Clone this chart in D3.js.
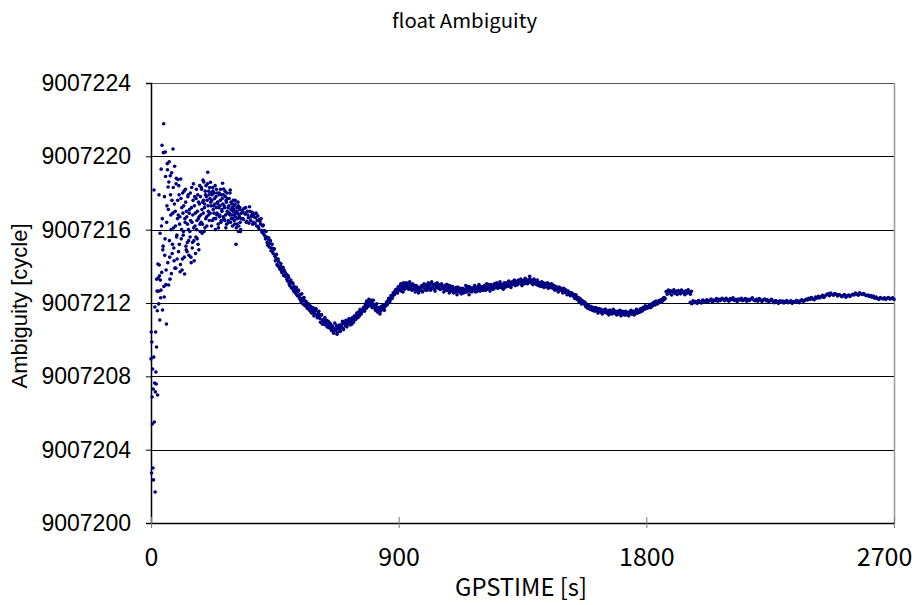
<!DOCTYPE html>
<html><head><meta charset="utf-8">
<script src="https://cdn.jsdelivr.net/npm/d3@7"></script>
<style>html,body{margin:0;padding:0;background:#fff;} svg{display:block}</style>
</head><body><svg id="chart" width="920" height="605"></svg>
<script>
const chartTitle = "float Ambiguity";
const xLabel = "GPSTIME [s]";
const yLabel = "Ambiguity [cycle]";
const xTicks = [0, 900, 1800, 2700];
const yTicks = [9007200, 9007204, 9007208, 9007212, 9007216, 9007220, 9007224];
const cycleBase = 9007200; // values below are the part above this integer

// convergence phase: 1 s epochs for 0-19 s, then 2 s epochs to 328 s
const earlyTimes = d3.range(0, 20, 1).concat(d3.range(20, 330, 2));
const earlyFrac = [
  8.95, 10.42, 2.73, 9.87, 6.87, 5.40, 8.40, 3.00, 7.31, 2.35, 9.05, 18.16, 5.51, 7.64, 11.78, 1.69, 7.15, 10.42, 8.24, 7.58,
  9.60, 12.65, 6.98, 13.36, 11.95, 14.07, 11.07, 13.25, 12.70, 16.2, 20.60, 11.62, 15.1, 21.78, 12.33, 14.6, 20.24, 13.0, 10.85, 17.3,
  19.27, 18.33, 12.98, 19.70, 14.5, 18.94, 16.8, 13.6, 17.6, 15.2, 20.40, 16.1, 14.3, 19.46, 17.0, 13.9, 18.80, 15.7, 16.6, 18.73,
  14.8, 17.9, 16.3, 13.7, 18.76, 15.5, 17.2, 14.4, 16.9, 15.9, 18.1, 13.58, 16.4, 17.5, 14.9, 16.7, 15.3, 17.8, 16.0, 14.6,
  17.1, 15.6, 16.5, 14.2, 18.3, 15.0, 16.8, 18.5, 15.4, 17.3, 16.2, 14.7, 17.7, 16.0, 15.5, 17.9, 16.6, 14.9, 17.4, 16.3,
  17.8, 16.4, 18.2, 15.8, 17.5, 16.9, 18.6, 17.2, 16.1, 17.9, 18.4, 16.7, 17.6, 19.13, 17.0, 18.1, 16.5, 17.7, 18.58, 17.3,
  16.2, 17.9, 18.3, 17.1, 16.6, 18.0, 17.4, 16.0, 17.8, 18.2, 16.9, 17.5, 16.3, 17.2, 18.0, 16.8, 17.6, 16.4, 17.9, 17.0,
  18.53, 16.7, 18.22, 17.3, 16.5, 17.8, 16.1, 17.5, 18.0, 16.9, 17.2, 16.4, 17.7, 16.8, 18.16, 17.1, 16.6, 17.4, 16.2, 17.0,
  16.8, 17.3, 16.3, 17.6, 16.9, 16.1, 17.2, 16.6, 17.5, 15.9, 16.8, 17.1, 16.4, 16.0, 16.9
];
// the odd epochs 21 s .. 327 s
const earlyTimesB = d3.range(21, 329, 2);
const earlyFracB = [
  13.30, 11.58, 14.13, 12.64, 17.9, 13.49, 15.8, 12.29, 19.3, 13.67, 16.6, 14.9, 20.2, 12.9, 17.8, 15.5, 18.9, 13.8, 16.4, 19.6,
  14.2, 17.1, 18.6, 15.4, 13.3, 17.9, 16.0, 19.1, 14.7, 16.9, 18.3, 15.0, 17.4, 13.9, 16.2, 18.5, 15.6, 14.4, 17.6, 16.8,
  18.4, 15.2, 16.7, 14.1, 17.7, 16.0, 13.8, 18.0, 15.7, 17.3, 14.5, 16.6, 18.2, 15.1, 17.0, 14.8, 16.3, 17.9, 15.4, 16.9,
  15.9, 18.0, 14.5, 17.2, 16.4, 15.3, 17.6, 16.1, 14.3, 17.8, 16.9, 15.6, 18.2, 16.5, 17.0, 15.2, 17.5, 16.7, 18.4, 15.9,
  16.8, 18.3, 17.1, 16.3, 18.7, 17.6, 15.9, 17.4, 18.1, 16.6, 17.8, 16.2, 18.5, 17.3, 16.8, 17.9, 18.3, 16.9, 17.5, 18.0,
  17.6, 16.5, 18.1, 17.3, 16.9, 17.7, 18.4, 16.6, 17.2, 16.8, 18.0, 17.4, 16.1, 17.9, 16.7, 17.3, 18.2, 16.5, 17.1, 17.7,
  17.4, 17.9, 16.6, 17.2, 18.1, 16.8, 17.6, 16.3, 17.0, 17.7, 16.5, 17.3, 16.9, 18.0, 16.4, 17.5, 16.8, 17.2, 16.6, 17.6,
  17.1, 16.5, 17.4, 16.7, 15.2, 17.0, 16.3, 16.9, 17.3, 16.2, 16.7, 17.2, 15.9, 16.6
];

// 332 s .. 1868 s, 4 s epochs
const midStart = 332, midStep = 4;
const midFrac = [
  17.05, 16.55, 16.90, 17.20, 16.45, 16.80, 16.35, 17.00, 16.70, 16.95,
  16.40, 16.85, 16.65, 16.20, 16.75, 16.05, 16.45, 16.60, 15.85, 16.25,
  15.95, 15.50, 15.60, 15.15, 15.55, 15.25, 14.85, 15.20, 14.70, 14.95,
  14.30, 14.65, 14.05, 14.25, 13.85, 14.15, 13.65, 13.95, 13.80, 13.45,
  13.55, 13.20, 13.40, 12.95, 13.25, 12.80, 13.05, 12.90, 12.55, 12.85,
  12.40, 12.70, 12.25, 12.15, 12.50, 11.95, 12.30, 11.85, 12.05, 11.70,
  11.95, 11.60, 11.80, 11.45, 11.75, 11.30, 11.55, 11.65, 11.20, 11.45,
  11.30, 10.95, 11.35, 11.05, 10.85, 11.20, 10.90, 10.70, 11.00, 10.75,
  10.85, 10.50, 10.70, 10.35, 10.90, 10.55, 10.30, 10.65, 10.80, 10.45,
  10.70, 11.00, 10.55, 10.85, 11.05, 10.70, 10.95, 11.15, 10.80, 11.00,
  11.20, 10.95, 11.30, 11.10, 11.45, 11.20, 11.35, 11.65, 11.40, 11.55,
  11.75, 11.55, 11.95, 12.10, 11.80, 12.20, 11.90, 12.05, 11.75, 12.15,
  11.85, 11.60, 11.95, 11.50, 11.75, 11.40, 11.80, 11.65, 11.90, 11.60,
  11.85, 12.05, 11.95, 12.25, 12.10, 12.40, 12.25, 12.55, 12.45, 12.70,
  12.75, 12.55, 12.90, 12.70, 13.05, 12.80, 12.60, 13.00, 12.85, 13.10,
  13.05, 12.75, 13.15, 12.90, 12.70, 13.00, 12.85, 12.60, 12.95, 12.75,
  12.55, 12.85, 12.70, 12.95, 12.65, 13.05, 12.80, 12.95, 12.70, 13.10,
  12.95, 12.70, 13.15, 12.85, 13.00, 12.65, 12.90, 13.10, 12.80, 12.95,
  12.75, 13.05, 12.85, 12.60, 12.95, 12.70, 13.00, 12.80, 12.55, 12.90,
  12.65, 12.90, 12.55, 12.80, 12.70, 12.45, 12.85, 12.60, 12.75, 12.50,
  12.80, 12.55, 12.70, 12.95, 12.60, 12.75, 12.45, 12.85, 12.65, 12.80,
  12.70, 12.95, 12.60, 12.85, 12.75, 13.00, 12.65, 12.90, 12.80, 12.70,
  12.95, 12.70, 13.05, 12.80, 12.90, 12.65, 13.00, 12.85, 12.75, 13.05,
  12.85, 13.10, 12.80, 12.95, 13.15, 12.85, 13.00, 12.75, 13.10, 12.95,
  13.10, 12.90, 13.20, 13.00, 12.85, 13.15, 13.05, 13.25, 12.95, 13.10,
  13.00, 13.25, 13.10, 13.30, 12.95, 13.20, 13.05, 13.35, 13.15, 13.05,
  13.25, 13.45, 13.10, 13.20, 13.00, 13.30, 13.15, 13.05, 13.25, 12.95,
  13.10, 12.90, 13.15, 13.00, 12.85, 13.05, 12.95, 13.10, 12.80, 12.95,
  12.85, 13.05, 12.80, 12.95, 12.70, 12.90, 12.75, 12.60, 12.85, 12.70,
  12.75, 12.55, 12.80, 12.60, 12.70, 12.45, 12.65, 12.50, 12.40, 12.55,
  12.50, 12.35, 12.25, 12.45, 12.20, 12.30, 12.05, 12.20, 11.95, 12.10,
  11.95, 12.05, 11.80, 11.90, 11.70, 11.85, 11.65, 11.80, 11.60, 11.75,
  11.55, 11.75, 11.60, 11.45, 11.70, 11.55, 11.65, 11.40, 11.60, 11.50,
  11.65, 11.45, 11.55, 11.35, 11.60, 11.50, 11.40, 11.65, 11.45, 11.55,
  11.35, 11.55, 11.40, 11.60, 11.30, 11.45, 11.50, 11.35, 11.55, 11.40,
  11.50, 11.30, 11.45, 11.60, 11.40, 11.55, 11.35, 11.50, 11.65, 11.45,
  11.60, 11.50, 11.70, 11.55, 11.75, 11.65, 11.85, 11.70, 11.80, 11.75,
  11.90, 11.75, 11.95, 11.85, 12.05, 11.90, 12.10, 11.95, 12.00, 12.15,
  12.05, 12.20, 12.15, 12.30, 12.25
];
// the in-between epochs 334 s .. 1866 s
const midStartB = 334, midStepB = 4;
const midFracB = [
  16.60, 17.15, 16.85, 16.40, 17.00, 16.65, 17.25, 16.50, 16.80, 16.30,
  16.70, 16.35, 16.90, 16.50, 16.15, 16.55, 16.30, 15.95, 16.20, 15.75,
  15.65, 15.90, 15.30, 15.45, 15.05, 15.40, 15.00, 14.80, 14.95, 14.55,
  14.45, 14.10, 14.40, 13.95, 14.00, 13.75, 13.85, 13.50, 13.70, 13.60,
  13.30, 13.50, 13.05, 13.15, 12.85, 13.10, 12.65, 12.80, 12.70, 12.45,
  12.60, 12.35, 12.45, 12.05, 12.25, 12.15, 11.90, 12.10, 11.80, 11.95,
  11.70, 11.85, 11.50, 11.65, 11.55, 11.40, 11.70, 11.35, 11.30, 11.55,
  11.15, 11.35, 10.85, 11.10, 11.00, 10.80, 11.05, 10.85, 10.65, 10.90,
  10.60, 10.75, 10.45, 10.60, 10.50, 10.75, 10.40, 10.60, 10.55, 10.70,
  10.85, 10.60, 10.90, 10.75, 10.95, 10.85, 11.05, 10.90, 11.10, 10.85,
  11.05, 11.25, 11.15, 11.35, 11.25, 11.50, 11.30, 11.45, 11.55, 11.60,
  11.65, 11.85, 11.70, 12.00, 11.95, 12.05, 11.85, 12.15, 11.95, 11.90,
  11.70, 11.80, 11.55, 11.65, 11.60, 11.55, 11.70, 11.85, 11.70, 11.80,
  11.95, 11.90, 12.15, 12.05, 12.20, 12.30, 12.35, 12.45, 12.60, 12.55,
  12.65, 12.85, 12.80, 12.95, 12.65, 12.90, 13.10, 12.75, 12.95, 12.85,
  12.90, 13.00, 12.80, 12.95, 13.05, 12.75, 12.95, 12.80, 12.70, 12.85,
  12.70, 12.75, 12.90, 12.60, 12.85, 12.90, 12.70, 13.00, 12.85, 12.90,
  12.85, 13.05, 12.80, 12.95, 12.75, 13.05, 12.85, 12.95, 13.00, 12.75,
  12.95, 12.80, 12.90, 12.75, 12.85, 13.00, 12.70, 12.85, 12.95, 12.70,
  12.80, 12.70, 12.75, 12.60, 12.85, 12.65, 12.70, 12.80, 12.55, 12.65,
  12.65, 12.75, 12.60, 12.80, 12.70, 12.90, 12.65, 12.70, 12.60, 12.75,
  12.85, 12.75, 12.80, 12.65, 12.90, 12.80, 12.75, 12.85, 12.70, 12.90,
  12.80, 12.90, 12.75, 13.00, 12.85, 12.80, 12.90, 12.75, 12.95, 12.85,
  13.00, 12.90, 12.95, 13.05, 12.85, 13.00, 12.90, 13.05, 12.85, 13.05,
  12.95, 13.05, 13.10, 12.95, 13.10, 13.00, 13.15, 13.05, 13.20, 13.00,
  13.15, 13.10, 13.20, 13.05, 13.20, 13.10, 13.25, 13.10, 13.20, 13.25,
  13.15, 13.30, 13.20, 13.10, 13.25, 13.10, 13.20, 13.00, 13.15, 13.05,
  13.00, 13.05, 12.95, 13.10, 13.00, 12.90, 13.00, 12.85, 13.05, 12.90,
  12.95, 12.85, 12.90, 12.80, 12.85, 12.80, 12.70, 12.85, 12.75, 12.80,
  12.70, 12.65, 12.60, 12.70, 12.55, 12.60, 12.55, 12.45, 12.55, 12.45,
  12.40, 12.45, 12.30, 12.35, 12.25, 12.15, 12.25, 12.10, 12.15, 12.00,
  12.05, 11.90, 11.95, 11.75, 11.85, 11.75, 11.70, 11.75, 11.65, 11.70,
  11.65, 11.60, 11.70, 11.55, 11.60, 11.50, 11.60, 11.55, 11.50, 11.65,
  11.50, 11.55, 11.45, 11.60, 11.45, 11.55, 11.50, 11.45, 11.55, 11.50,
  11.45, 11.40, 11.50, 11.45, 11.40, 11.55, 11.40, 11.45, 11.35, 11.45,
  11.40, 11.45, 11.50, 11.40, 11.50, 11.45, 11.55, 11.45, 11.55, 11.50,
  11.55, 11.65, 11.60, 11.70, 11.65, 11.75, 11.70, 11.80, 11.75, 11.85,
  11.85, 11.80, 11.90, 12.00, 11.95, 12.05, 12.00, 12.05, 12.10, 12.05,
  12.15, 12.10, 12.25, 12.20
];

// short offset cluster 1872 s .. 1964 s, 4 s epochs
const jumpStart = 1872, jumpStep = 4;
const jumpFrac = [
  12.62, 12.48, 12.70, 12.55, 12.66, 12.44, 12.60, 12.72, 12.52, 12.64, 12.46, 12.68,
  12.58, 12.50, 12.70, 12.56, 12.62, 12.45, 12.66, 12.54, 12.72, 12.58, 12.48, 12.64
];

// 1960 s .. 2700 s, 5 s epochs
const lateStart = 1960, lateStep = 5;
const lateFrac = [
  12.04, 11.96, 12.12, 12.02, 12.08, 11.98, 12.14, 12.06, 12.00, 12.16, 12.10, 12.04,
  12.18, 12.08, 12.14, 12.22, 12.06, 12.16, 12.12, 12.24, 12.10, 12.20, 12.14, 12.26,
  12.20, 12.12, 12.26, 12.16, 12.10, 12.24, 12.18, 12.28, 12.14, 12.20,
  12.08, 12.22, 12.16, 12.26, 12.12, 12.18, 12.24, 12.10, 12.20, 12.14,
  12.22, 12.28, 12.16, 12.12, 12.20, 12.10, 12.24, 12.18, 12.08, 12.16,
  12.22, 12.12, 12.18, 12.06, 12.14, 12.20,
  12.10, 12.02, 12.14, 12.06, 11.98, 12.12, 12.04, 12.10, 12.00, 12.08,
  12.14, 12.02, 12.06, 12.12, 11.98, 12.08, 12.04, 12.14, 12.10, 12.02,
  12.12, 12.18, 12.08, 12.14, 12.20,
  12.16, 12.26, 12.20, 12.30, 12.22, 12.18, 12.32, 12.26, 12.36, 12.28, 12.34, 12.42, 12.30, 12.38, 12.46,
  12.50, 12.40, 12.54, 12.46, 12.42, 12.52, 12.48, 12.38, 12.46,
  12.42, 12.34, 12.40, 12.46, 12.32, 12.38, 12.44, 12.36, 12.42, 12.48,
  12.44, 12.54, 12.48, 12.42, 12.56, 12.50, 12.46, 12.52, 12.44, 12.40,
  12.44, 12.36, 12.40, 12.32, 12.38,
  12.26, 12.32, 12.24, 12.20, 12.30, 12.26, 12.22, 12.28, 12.20, 12.26, 12.30, 12.22, 12.24, 12.28, 12.20
];

// ---------- build points ----------
const points = [];
earlyFrac.forEach((f, i) => { if (i < earlyTimes.length) points.push({t: earlyTimes[i], v: cycleBase + f}); });
earlyFracB.forEach((f, i) => { if (i < earlyTimesB.length) points.push({t: earlyTimesB[i], v: cycleBase + f}); });
midFrac.forEach((f, i) => points.push({t: midStart + i * midStep, v: cycleBase + f}));
midFracB.forEach((f, i) => points.push({t: midStartB + i * midStepB, v: cycleBase + f}));
jumpFrac.forEach((f, i) => points.push({t: jumpStart + i * jumpStep, v: cycleBase + f}));
lateFrac.forEach((f, i) => points.push({t: lateStart + i * lateStep, v: cycleBase + f}));

// ---------- layout ----------
const L = 151, R = 894, T = 83, B = 523;
const svg = d3.select("#chart");
const x = d3.scaleLinear().domain([0, 2700]).range([L, R]);
const y = d3.scaleLinear().domain([9007200, 9007224]).range([B, T]);

const jpFont = "'Noto Sans CJK JP', 'Noto Sans', sans-serif";
const arialFont = "'Liberation Sans', Arial, sans-serif";

// title
svg.append("text").attr("x", 464.5).attr("y", 28).attr("text-anchor", "middle")
  .attr("font-family", jpFont).attr("font-size", 19).attr("fill", "#000")
  .attr("textLength", 145).attr("lengthAdjust", "spacingAndGlyphs").text(chartTitle);

// gridlines
svg.append("g").selectAll("line").data(yTicks.filter(d => d > 9007200 && d < 9007224)).join("line")
  .attr("x1", L).attr("x2", R).attr("y1", d => Math.round(y(d)) + 0.5).attr("y2", d => Math.round(y(d)) + 0.5)
  .attr("stroke", "#000").attr("stroke-width", 1);

// plot borders
svg.append("line").attr("x1", L).attr("x2", R).attr("y1", T + 0.5).attr("y2", T + 0.5).attr("stroke", "#555");
svg.append("line").attr("x1", R + 0.5).attr("x2", R + 0.5).attr("y1", T).attr("y2", B).attr("stroke", "#999").attr("stroke-width", 1.5);

// y axis
const yAxis = d3.axisLeft(y).tickValues(yTicks).tickSize(5).tickPadding(15).tickFormat(d3.format("d"));
const gy = svg.append("g").attr("transform", `translate(${L},0)`).call(yAxis);
gy.select(".domain").attr("stroke", "#000").attr("stroke-width", 1.5);
gy.selectAll(".tick line").attr("stroke", "#000");
gy.selectAll(".tick text").attr("font-family", arialFont).attr("font-size", 23).attr("fill", "#000");

// x axis
const xAxis = d3.axisBottom(x).tickValues(xTicks).tickSizeInner(5).tickSizeOuter(0).tickFormat(d3.format("d"));
const gx = svg.append("g").attr("transform", `translate(0,${B})`).call(xAxis);
gx.select(".domain").attr("stroke", "#000").attr("stroke-width", 1.5);
gx.selectAll(".tick line").attr("y1", -6).attr("y2", 5).attr("stroke", "#777");
gx.selectAll(".tick text").attr("font-family", jpFont).attr("font-size", 25).attr("fill", "#000")
  .attr("dy", null).attr("y", 43)
  .attr("transform", (d) => d === 2700 ? "translate(-10,0)" : null);

// axis titles
svg.append("text").attr("x", 521).attr("y", 596).attr("text-anchor", "middle")
  .attr("font-family", jpFont).attr("font-size", 24).attr("fill", "#000")
  .attr("textLength", 132).attr("lengthAdjust", "spacingAndGlyphs").text(xLabel);
svg.append("text").attr("transform", "translate(27,306) rotate(-90)").attr("text-anchor", "middle")
  .attr("font-family", arialFont).attr("font-size", 22).attr("fill", "#000").text(yLabel);

// points
svg.append("g").selectAll("circle").data(points).join("circle")
  .attr("cx", d => x(d.t)).attr("cy", d => y(d.v)).attr("r", 1.8).attr("fill", "#000080");
</script></body></html>
